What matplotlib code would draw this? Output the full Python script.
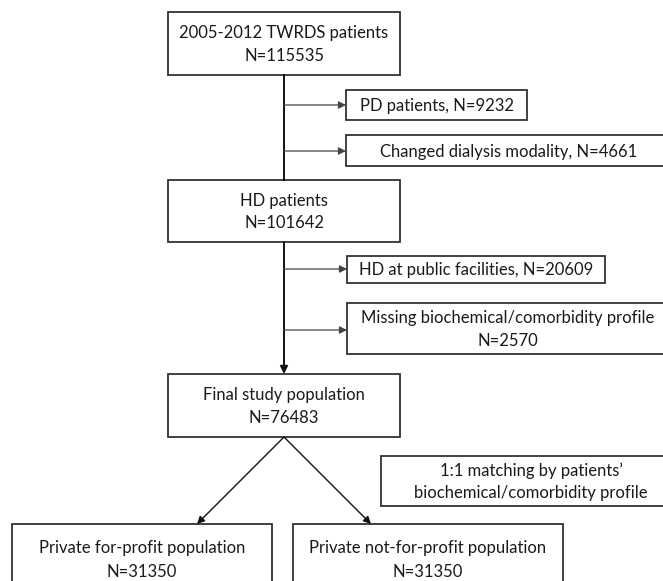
import matplotlib
matplotlib.use("Agg")
import matplotlib.pyplot as plt
from matplotlib.patches import Rectangle

# ---- data ----
main_labels = ["2005-2012 TWRDS patients", "HD patients", "Final study population"]
main_n = [115535, 101642, 76483]
excl_labels = ["PD patients", "Changed dialysis modality",
               "HD at public facilities", "Missing biochemical/comorbidity profile"]
excl_n = [9232, 4661, 20609, 2570]
group_labels = ["Private for-profit population", "Private not-for-profit population"]
group_n = [31350, 31350]
match_note = "1:1 matching by patients\u2019\nbiochemical/comorbidity profile"

W, H = 663, 581
fig = plt.figure(figsize=(W / 100, H / 100), dpi=100)
ax = fig.add_axes([0, 0, 1, 1])
ax.set_xlim(0, W)
ax.set_ylim(H, 0)
ax.axis("off")

FONT = "Lato"
FS = 12
TXT = "#1a1a1a"
EDGE = "#333333"
LS = 1.5


def box(x0, y0, x1, y1, text, lw=1.3, tx=None):
    ax.add_patch(Rectangle((x0, y0), x1 - x0, y1 - y0, facecolor="white",
                           edgecolor=EDGE, linewidth=lw, clip_on=False))
    if tx is None:
        tx = (x0 + x1) / 2
    ax.text(tx, (y0 + y1) / 2 + 1, text, ha="center", va="center",
            fontsize=FS, family=FONT, color=TXT, linespacing=LS)


def arrow(x0, y0, x1, y1, lw=1.0, color="#333333"):
    ax.annotate("", xy=(x1, y1), xytext=(x0, y0),
                arrowprops=dict(arrowstyle="-|>", color=color, lw=lw,
                                mutation_scale=11, shrinkA=0, shrinkB=0))


# main column
main_boxes = [(168, 12, 400, 75), (168, 180, 400, 242), (168, 374, 400, 437)]
for (x0, y0, x1, y1), lab, n in zip(main_boxes, main_labels, main_n):
    box(x0, y0, x1, y1, f"{lab}\nN={n}")

cx = 284
ax.plot([cx, cx], [75, 180], color="#111111", lw=1.4)
arrow(cx, 242, cx, 374, lw=1.4, color="#111111")

# exclusion boxes
excl_boxes = [(346, 90, 527, 120), (346, 135, 672, 166),
              (347, 256, 605, 283), (347, 303, 672, 354)]
excl_y = [105, 151, 269, 330]
excl_tx = [None, 509, None, 508]
for i, ((x0, y0, x1, y1), lab, n, yy, tx) in enumerate(
        zip(excl_boxes, excl_labels, excl_n, excl_y, excl_tx)):
    sep = "\n" if i == 3 else ", "
    box(x0, y0, x1, y1, f"{lab}{sep}N={n}", tx=tx)
    arrow(cx, yy, x0, yy, lw=0.9, color="#444444")

# matching note
box(381, 456, 684, 506, match_note, tx=531)

# group boxes
group_boxes = [(12, 524, 272, 600), (293, 524, 563, 600)]
for (x0, y0, x1, y1), lab, n in zip(group_boxes, group_labels, group_n):
    ax.add_patch(Rectangle((x0, y0), x1 - x0, y1 - y0, facecolor="white",
                           edgecolor=EDGE, linewidth=1.3, clip_on=False))
    ax.text((x0 + x1) / 2, 548, lab, ha="center", va="center",
            fontsize=FS, family=FONT, color=TXT)
    ax.text((x0 + x1) / 2, 572, f"N={n}", ha="center", va="center",
            fontsize=FS, family=FONT, color=TXT)

arrow(cx, 437, 197, 524, lw=1.0, color="#111111")
arrow(cx, 437, 371, 524, lw=1.0, color="#111111")

fig.savefig("out.png", dpi=100, facecolor="white")
